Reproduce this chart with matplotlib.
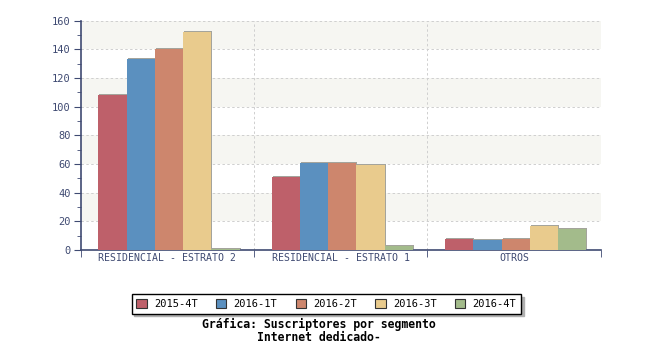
import numpy as np
import matplotlib
matplotlib.use("Agg")
from matplotlib import pyplot as plt
from matplotlib import transforms

segmentos = ["RESIDENCIAL - ESTRATO 2", "RESIDENCIAL - ESTRATO 1", "OTROS"]
periodos = ["2015-4T", "2016-1T", "2016-2T", "2016-3T", "2016-4T"]
v_2015_4t = [108, 51, 8]
v_2016_1t = [133, 61, 7]
v_2016_2t = [140, 61, 8]
v_2016_3t = [152, 59, 17]
v_2016_4t = [1, 3, 15]
colores = ["#be606a", "#5b90bf", "#cd866d", "#e9cb8d", "#a3bb8b"]

plt.rcParams["font.family"] = ["DejaVu Sans Mono"]
eje = "#3f4a72"

fig = plt.figure(figsize=(6.5, 3.5), dpi=100)
ax = fig.add_axes([0.124, 0.2857, 0.80, 0.655])

# bandas alternas del fondo
for y0 in range(20, 160, 40):
    ax.axhspan(y0, y0 + 20, color="#f6f6f2", lw=0, zorder=0)
ax.yaxis.grid(True, ls=(0, (2.5, 2.5)), color="#cfcfcf", lw=0.7)
for xb in [0.5, 1.5, 2.5]:
    ax.axvline(xb, ls=(0, (2.5, 2.5)), color="#cfcfcf", lw=0.7, zorder=1)
ax.set_axisbelow(True)

x = np.arange(len(segmentos))
ancho = 0.163
series = [v_2015_4t, v_2016_1t, v_2016_2t, v_2016_3t, v_2016_4t]
sombra = transforms.offset_copy(ax.transData, fig=fig, x=1, y=1, units="dots")
for i, (vals, col) in enumerate(zip(series, colores)):
    pos = x + 0.01 + (i - 2) * ancho
    sb = ax.bar(pos, vals, ancho, color="#a4a49c", lw=0, zorder=2)
    for p in sb:
        p.set_transform(sombra)
    ax.bar(pos, vals, ancho, color=col, lw=0, zorder=3, label=periodos[i])

ax.set_xlim(-0.5, 2.5)
ax.set_ylim(0, 160)
ax.set_yticks(range(0, 161, 20))
ax.set_yticks(range(0, 161, 10), minor=True)
ax.set_xticks(x)
ax.set_xticklabels(segmentos)
ax.set_xticks([-0.5, 0.5, 1.5, 2.5], minor=True)

for s in ["top", "right"]:
    ax.spines[s].set_visible(False)
for s in ["left", "bottom"]:
    ax.spines[s].set_color(eje)
    ax.spines[s].set_linewidth(1.2)
ax.tick_params(axis="y", which="major", length=5, color=eje, labelcolor=eje, labelsize=7.5, pad=2)
ax.tick_params(axis="y", which="minor", length=3, color=eje)
ax.tick_params(axis="x", which="major", length=0, labelcolor=eje, labelsize=7.1, pad=2)
ax.tick_params(axis="x", which="minor", length=5, color=eje)

leg = fig.legend(loc="center", bbox_to_anchor=(0.502, 0.132), ncol=5, fontsize=7.5,
                 frameon=True, fancybox=False, shadow={"color": "#b0b0b0", "alpha": 1},
                 handlelength=1.0, handleheight=1.0, handletextpad=0.7, columnspacing=1.75,
                 borderpad=0.45)
leg.get_frame().set_edgecolor("black")
leg.get_frame().set_linewidth(1.0)
for h in leg.legend_handles:
    h.set_edgecolor("#333333")
    h.set_linewidth(0.8)

fig.text(0.49, 0.072, "Gráfica: Suscriptores por segmento", ha="center", va="center",
         fontsize=8.3, fontweight="bold")
fig.text(0.49, 0.035, "Internet dedicado-", ha="center", va="center",
         fontsize=8.3, fontweight="bold")

fig.savefig("out.png", dpi=100)
